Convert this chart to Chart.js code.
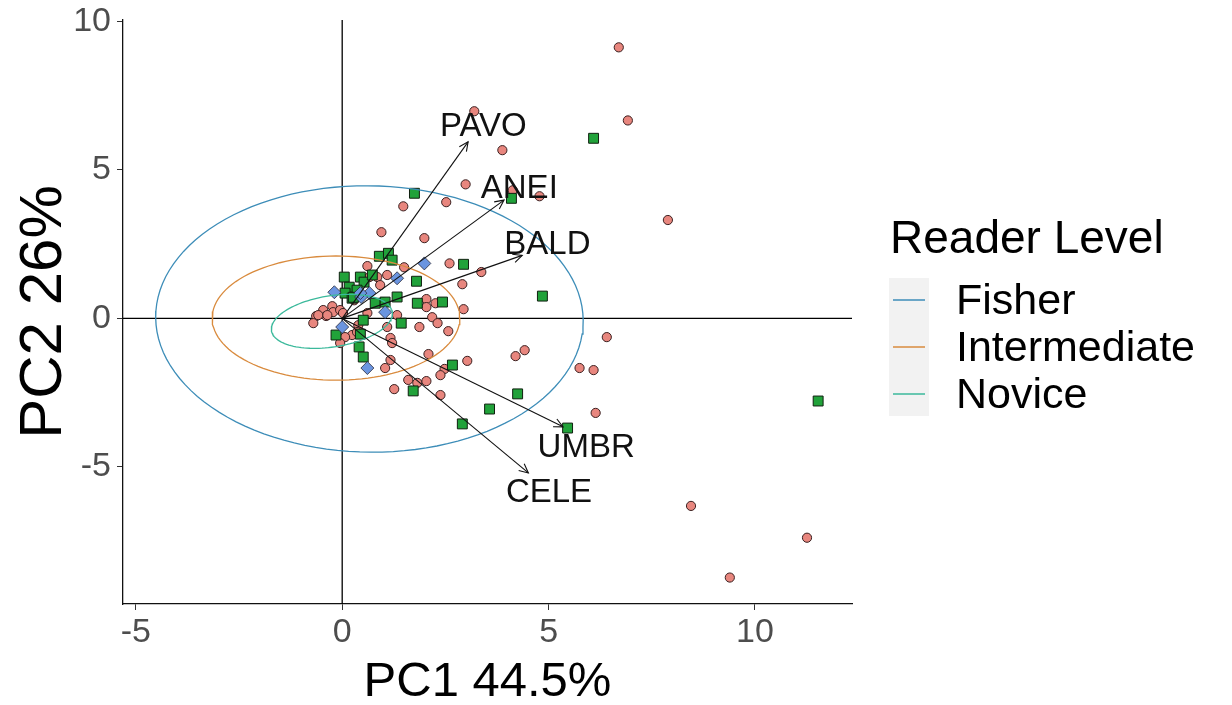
<!DOCTYPE html>
<html><head><meta charset="utf-8">
<script src="https://cdn.jsdelivr.net/npm/chart.js@4.4.0/dist/chart.umd.min.js"></script>
<style>html,body{margin:0;padding:0;background:#fff;}canvas{display:block;}</style>
</head><body>
<canvas id="c" width="1232" height="705"></canvas>
<script>
// ---------- data ----------
const circleX = [6.70,6.92,7.89,3.20,3.88,2.99,4.13,4.78,2.52,1.48,0.95,1.99,2.60,3.37,2.91,0.61,0.66,0.85,1.09,0.92,2.04,2.04,2.26,2.94,1.33,1.09,1.87,2.18,2.31,2.57,1.17,1.21,6.41,4.20,4.42,3.03,2.09,5.75,6.09,2.48,2.38,1.17,1.04,1.26,1.60,1.82,2.04,2.38,6.14,8.45,11.26,9.39,-0.46,-0.24,-0.39,-0.22,-0.63,-0.05,-0.70,-0.58,-0.36,0.02,0.39,0.61,0.24,0.07,-0.05,0.36,0.29,0.15,1.50,0.99];
const circleY = [9.12,6.66,3.31,6.97,5.66,4.51,4.31,4.11,3.91,3.77,2.90,2.70,1.85,1.56,1.15,1.76,1.39,1.39,1.46,1.12,0.65,0.38,0.51,0.31,0.11,-0.29,-0.29,0.04,-0.16,-0.43,-0.66,-0.83,-0.63,-1.27,-1.07,-1.43,-1.20,-1.67,-1.74,-1.70,-1.91,-1.40,-1.67,-2.38,-2.07,-2.17,-2.11,-2.58,-3.18,-6.31,-7.38,-8.72,0.28,0.41,0.08,0.21,0.08,0.28,-0.16,0.11,0.11,0.18,-0.23,0.18,-0.56,-0.63,-0.83,-0.46,0.61,0.88,1.72,0.55];
const squareX = [6.09,4.10,1.75,0.90,1.12,1.21,2.94,4.85,1.80,1.33,1.82,2.43,1.43,0.41,0.51,1.72,2.67,4.25,3.57,2.91,5.46,11.53,0.05,0.44,0.53,0.17,0.36,0.07,0.24,0.80,1.04,-0.15,0.44,0.51,0.73,0.27];
const squareY = [6.06,4.04,4.21,2.09,2.19,1.96,1.82,0.75,1.25,0.72,0.51,0.55,-0.16,-0.96,-1.30,-2.44,-1.57,-2.54,-3.05,-3.55,-3.69,-2.78,1.39,1.39,1.22,1.05,0.95,0.85,0.68,0.51,0.55,-0.56,-0.53,-0.06,1.46,0.71];
const diamondX = [1.99,1.33,0.66,0.46,1.04,-0.19,0.44,0.00,0.61];
const diamondY = [1.85,1.35,0.85,0.72,0.21,0.88,0.85,-0.29,-1.67];

const arrowNames = ['PAVO','ANEI','BALD','UMBR','CELE'];
const arrowTipX = [3.05,3.92,4.36,5.35,4.51];
const arrowTipY = [5.94,3.98,2.12,-3.65,-5.20];
const labelX = [3.42,4.29,4.97,5.91,5.01];
const labelY = [6.44,4.35,2.47,-4.36,-5.87];

const readerLevels = ['Fisher','Intermediate','Novice'];
const ellipseCX = [0.66,-0.15,-0.25];
const ellipseCY = [-0.02,0.01,-0.10];
const ellipseA = [5.18,3.00,1.50];
const ellipseB = [4.48,2.09,0.85];
const ellipseAngleDeg = [-3,0,15];

const xTicks = [-5,0,5,10];
const yTicks = [-5,0,5,10];
const xAxisTitle = 'PC1 44.5%';
const yAxisTitle = 'PC2 26%';
const legendTitle = 'Reader Level';

// ---------- styles ----------
const FONT = '"Liberation Sans", Arial, sans-serif';
const levelColors = ['#3d8db8','#d98b3e','#3bb99b'];

const zip = (xs, ys) => xs.map((v, i) => ({x: v, y: ys[i]}));
function ellipsePath(i) {
  const pts = [];
  const th = ellipseAngleDeg[i] * Math.PI / 180;
  for (let k = 0; k <= 120; k++) {
    const t = k / 120 * 2 * Math.PI;
    const ex = ellipseA[i] * Math.cos(t), ey = ellipseB[i] * Math.sin(t);
    pts.push({x: ellipseCX[i] + ex * Math.cos(th) - ey * Math.sin(th),
              y: ellipseCY[i] + ex * Math.sin(th) + ey * Math.cos(th)});
  }
  return pts;
}

const datasets = [];
arrowNames.forEach((n, i) => datasets.push({
  label: n, data: [{x: 0, y: 0}, {x: arrowTipX[i], y: arrowTipY[i]}],
  showLine: true, pointRadius: 0, borderColor: '#111', borderWidth: 1.1, order: 0
}));
readerLevels.forEach((n, i) => datasets.push({
  label: n, data: ellipsePath(i), showLine: true, pointRadius: 0,
  borderColor: levelColors[i], borderWidth: 1.3, order: 1
}));
datasets.push({label: 'diamond', data: zip(diamondX, diamondY), pointStyle: 'rectRot', pointRadius: 6.5,
  backgroundColor: '#6b95e0', borderColor: '#2a2a3a', borderWidth: 0.8, order: 2});
datasets.push({label: 'square', data: zip(squareX, squareY), pointStyle: 'rect', pointRadius: 7,
  backgroundColor: '#21a23a', borderColor: '#102010', borderWidth: 1, order: 3});
datasets.push({label: 'circle', data: zip(circleX, circleY), pointStyle: 'circle', pointRadius: 4.6,
  backgroundColor: '#e8867e', borderColor: '#3a2020', borderWidth: 1, order: 4});

const overlay = {
  id: 'overlay',
  beforeDatasetsDraw(chart) {
    const {ctx, chartArea: a, scales: {x, y}} = chart;
    const x0 = x.getPixelForValue(0), y0 = y.getPixelForValue(0);
    ctx.save();
    ctx.strokeStyle = '#000'; ctx.lineWidth = 1.3;
    ctx.beginPath();
    ctx.moveTo(a.left, y0); ctx.lineTo(a.right, y0);
    ctx.moveTo(x0, a.top); ctx.lineTo(x0, a.bottom);
    ctx.stroke();
    ctx.restore();
  },
  afterDatasetsDraw(chart) {
    const {ctx, scales: {x, y}} = chart;
    ctx.save();
    const ox = x.getPixelForValue(0), oy = y.getPixelForValue(0);
    ctx.strokeStyle = '#111'; ctx.lineWidth = 1.1;
    arrowNames.forEach((n, i) => {
      const tx = x.getPixelForValue(arrowTipX[i]), ty = y.getPixelForValue(arrowTipY[i]);
      const ang = Math.atan2(ty - oy, tx - ox);
      const L = 10, w = 0.45;
      ctx.beginPath();
      ctx.moveTo(tx - L * Math.cos(ang - w), ty - L * Math.sin(ang - w));
      ctx.lineTo(tx, ty);
      ctx.lineTo(tx - L * Math.cos(ang + w), ty - L * Math.sin(ang + w));
      ctx.stroke();
    });
    ctx.fillStyle = '#111';
    ctx.font = '33px ' + FONT;
    ctx.textAlign = 'center'; ctx.textBaseline = 'middle';
    arrowNames.forEach((n, i) => {
      ctx.fillText(n, x.getPixelForValue(labelX[i]), y.getPixelForValue(labelY[i]));
    });
    ctx.restore();
  },
  afterDraw(chart) {
    const {ctx, chartArea: a} = chart;
    const lx = a.right + 37;
    ctx.save();
    ctx.fillStyle = '#000';
    ctx.textAlign = 'left'; ctx.textBaseline = 'middle';
    ctx.font = '46px ' + FONT;
    ctx.fillText(legendTitle, lx + 1, 240);
    ctx.fillStyle = '#f2f2f2';
    ctx.fillRect(lx, 278, 40, 138);
    const rows = [300, 347, 394];
    readerLevels.forEach((n, i) => {
      ctx.strokeStyle = levelColors[i]; ctx.lineWidth = 1.5;
      ctx.beginPath(); ctx.moveTo(lx + 4, rows[i]); ctx.lineTo(lx + 36, rows[i]); ctx.stroke();
      ctx.fillStyle = '#000';
      ctx.font = '43px ' + FONT;
      ctx.fillText(n, lx + 67, rows[i] + 2);
    });
    ctx.restore();
  }
};

new Chart(document.getElementById('c'), {
  type: 'scatter',
  data: {datasets},
  plugins: [overlay],
  options: {
    responsive: false, animation: false,
    layout: {padding: {left: 0, right: 380, top: 20, bottom: 0}},
    plugins: {legend: {display: false}, tooltip: {enabled: false}},
    scales: {
      x: {
        type: 'linear', min: -5.31, max: 12.35,
        afterBuildTicks: s => { s.ticks = xTicks.map(v => ({value: v})); },
        afterFit: s => { s.height = 101; s.paddingLeft = 0; s.paddingRight = 0; },
        grid: {display: true, drawOnChartArea: false, drawTicks: true, tickLength: 6, color: '#333'},
        border: {display: true, color: '#111', width: 1.3},
        ticks: {color: '#4d4d4d', font: {size: 34, family: FONT}, padding: 2, maxRotation: 0},
        title: {display: true, text: xAxisTitle, color: '#000', font: {size: 49, family: FONT, lineHeight: 0.9}, padding: {top: 0, bottom: 0}}
      },
      y: {
        type: 'linear', min: -9.61, max: 10.04,
        afterBuildTicks: s => { s.ticks = yTicks.map(v => ({value: v})); },
        afterFit: s => { s.width = 123; s.paddingTop = 0; s.paddingBottom = 0; },
        grid: {display: true, drawOnChartArea: false, drawTicks: true, tickLength: 6, color: '#333'},
        border: {display: true, color: '#111', width: 1.3},
        ticks: {color: '#4d4d4d', font: {size: 34, family: FONT}, padding: 6},
        title: {display: true, text: yAxisTitle, color: '#000', font: {size: 60, family: FONT, lineHeight: 1}, padding: {top: 14, bottom: 0}}
      }
    }
  }
});
</script>
</body></html>
